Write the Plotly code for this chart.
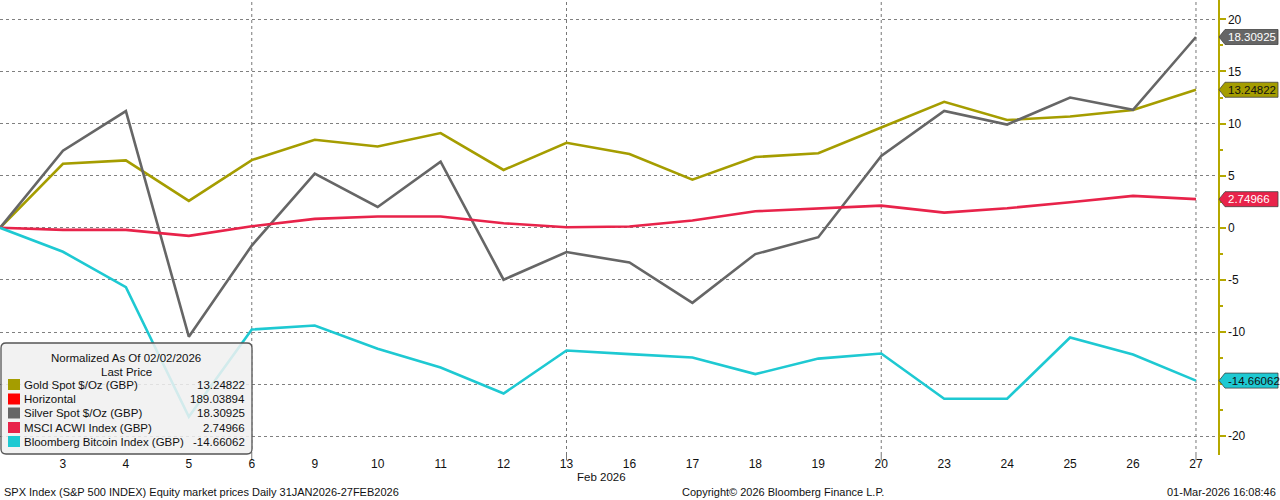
import plotly.graph_objects as go

# ---------------- data ----------------
days = ["2", "3", "4", "5", "6", "9", "10", "11", "12", "13",
        "16", "17", "18", "19", "20", "23", "24", "25", "26", "27"]
grid_days = ["6", "13", "20", "27"]

gold = [0, 6.15, 6.47, 2.58, 6.5, 8.45, 7.8, 9.09, 5.55, 8.16,
        7.08, 4.62, 6.79, 7.15, 9.63, 12.09, 10.34, 10.68, 11.3, 13.24822]
silver = [0, 7.4, 11.2, -10.45, -1.7, 5.2, 2.0, 6.34, -4.98, -2.33,
          -3.32, -7.2, -2.52, -0.9, 6.89, 11.22, 9.91, 12.5, 11.32, 18.30925]
msci = [0, -0.2, -0.2, -0.77, 0.15, 0.86, 1.08, 1.08, 0.44, 0.06,
        0.12, 0.7, 1.59, 1.88, 2.13, 1.46, 1.88, 2.45, 3.06, 2.74966]
btc = [0, -2.3, -5.7, -18.13, -9.76, -9.38, -11.6, -13.4, -15.9, -11.77,
       -12.12, -12.44, -14.04, -12.55, -12.06, -16.4, -16.4, -10.53, -12.15, -14.66062]
horizontal_value = 189.03894

y_ticks = [20, 15, 10, 5, 0, -5, -10, -15, -20]
y_tick_text = ["20", "15", "10", "5", "0", "-5", "-10", "", "-20"]  # -15 is hidden behind the badge

names = ["Gold Spot $/Oz (GBP)", "Horizontal", "Silver Spot $/Oz (GBP)",
         "MSCI ACWI Index (GBP)", "Bloomberg Bitcoin Index (GBP)"]

# ---------------- styles ----------------
C_GOLD = "#a59d00"
C_HORIZ = "#ff0000"
C_SILVER = "#666666"
C_MSCI = "#e8234a"
C_BTC = "#1ec9d2"
C_AXIS = "#b5a800"
FONT = "Liberation Sans"
TXT = "#111111"

W, H = 1280, 500
ML, MR, MT, MB = 0, 62, 0, 45
PW = W - ML - MR
PH = H - MT - MB


def px(xp):
    return (xp - ML) / PW


def py(yp):
    return (H - MB - yp) / PH


x = list(range(len(days)))

fig = go.Figure()
series = [(gold, C_GOLD, names[0]), (silver, C_SILVER, names[2]),
          (msci, C_MSCI, names[3]), (btc, C_BTC, names[4])]
for vals, col, nm in series:
    fig.add_trace(go.Scatter(x=x, y=vals, mode="lines", name=nm,
                             line=dict(color=col, width=2.6), hoverinfo="skip"))

shapes = []
annotations = []

# vertical dotted gridlines at weekly positions
for d in grid_days:
    i = days.index(d)
    shapes.append(dict(type="line", xref="x", yref="paper", x0=i, x1=i, y0=0, y1=1,
                       line=dict(color="#777777", width=1, dash="dot"), layer="below"))
    shapes.append(dict(type="line", xref="x", yref="paper", x0=i, x1=i, y0=0, y1=-0.012,
                       line=dict(color="#777777", width=1), layer="below"))

# right-axis value badges
upp = (21.86 + 21.8) / PH  # data units per pixel
badges = [(silver[-1], C_SILVER, "white"), (gold[-1], C_GOLD, "#111111"),
          (msci[-1], C_MSCI, "white"), (btc[-1], C_BTC, "#111111")]
for v, col, tc in badges:
    hh = 7.5 * upp
    x_tip, x_l, x_r = px(1219), px(1225), px(1278)
    path = (f"M {x_tip},{v} L {x_l},{v + hh} L {x_r},{v + hh} "
            f"L {x_r},{v - hh} L {x_l},{v - hh} Z")
    shapes.append(dict(type="path", xref="paper", yref="y", path=path,
                       fillcolor=col, line=dict(color="#444444", width=0.8), layer="above"))
    annotations.append(dict(xref="paper", yref="y", x=px(1226), y=v, text=f"{v:.5f}",
                            showarrow=False, xanchor="left", yanchor="middle",
                            font=dict(family=FONT, size=11.5, color=tc)))

# legend box
lx0, lx1, ly0, ly1, r = 1, 252, 343, 454, 5
path = (f"M {px(lx0 + r)},{py(ly0)} L {px(lx1 - r)},{py(ly0)} "
        f"Q {px(lx1)},{py(ly0)} {px(lx1)},{py(ly0 + r)} "
        f"L {px(lx1)},{py(ly1 - r)} Q {px(lx1)},{py(ly1)} {px(lx1 - r)},{py(ly1)} "
        f"L {px(lx0 + r)},{py(ly1)} Q {px(lx0)},{py(ly1)} {px(lx0)},{py(ly1 - r)} "
        f"L {px(lx0)},{py(ly0 + r)} Q {px(lx0)},{py(ly0)} {px(lx0 + r)},{py(ly0)} Z")
shapes.append(dict(type="path", xref="paper", yref="paper", path=path,
                   fillcolor="rgba(240,240,240,0.86)", line=dict(color="#555555", width=1.3),
                   layer="above"))

annotations.append(dict(xref="paper", yref="paper", x=px(126), y=py(357.5),
                        text="Normalized As Of 02/02/2026", showarrow=False,
                        xanchor="center", yanchor="middle",
                        font=dict(family=FONT, size=11.5, color=TXT)))
annotations.append(dict(xref="paper", yref="paper", x=px(126), y=py(371.5),
                        text="Last Price", showarrow=False,
                        xanchor="center", yanchor="middle",
                        font=dict(family=FONT, size=11.5, color=TXT)))

leg_vals = [gold[-1], horizontal_value, silver[-1], msci[-1], btc[-1]]
leg_cols = [C_GOLD, C_HORIZ, C_SILVER, C_MSCI, C_BTC]
row_y = [384.5, 399, 413, 427.5, 441.5]
for nm, val, col, ry in zip(names, leg_vals, leg_cols, row_y):
    shapes.append(dict(type="rect", xref="paper", yref="paper",
                       x0=px(8), x1=px(20), y0=py(ry + 5.5), y1=py(ry - 5.5),
                       fillcolor=col, line=dict(width=0), layer="above"))
    annotations.append(dict(xref="paper", yref="paper", x=px(22), y=py(ry), text=nm,
                            showarrow=False, xanchor="left", yanchor="middle",
                            font=dict(family=FONT, size=11.5, color=TXT)))
    annotations.append(dict(xref="paper", yref="paper", x=px(247), y=py(ry),
                            text=f"{val:.5f}", showarrow=False, xanchor="right",
                            yanchor="middle", font=dict(family=FONT, size=11.5, color=TXT)))

# axis sub-label and footer
annotations.append(dict(xref="paper", yref="paper", x=px(601), y=py(477), text="Feb 2026",
                        showarrow=False, xanchor="center", yanchor="middle",
                        font=dict(family=FONT, size=11.5, color=TXT)))
annotations.append(dict(xref="paper", yref="paper", x=px(2), y=py(492),
                        text="SPX Index (S&P 500 INDEX) Equity market prices Daily 31JAN2026-27FEB2026",
                        showarrow=False, xanchor="left", yanchor="middle",
                        font=dict(family=FONT, size=11, color=TXT)))
annotations.append(dict(xref="paper", yref="paper", x=px(680), y=py(492),
                        text="Copyright© 2026 Bloomberg Finance L.P.",
                        showarrow=False, xanchor="left", yanchor="middle",
                        font=dict(family=FONT, size=11, color=TXT)))
annotations.append(dict(xref="paper", yref="paper", x=px(1278), y=py(492),
                        text="01-Mar-2026 16:08:46",
                        showarrow=False, xanchor="right", yanchor="middle",
                        font=dict(family=FONT, size=11, color=TXT)))

fig.update_layout(
    width=W, height=H,
    margin=dict(l=ML, r=MR, t=MT, b=MB),
    paper_bgcolor="white", plot_bgcolor="white",
    showlegend=False, hovermode=False,
    shapes=shapes, annotations=annotations,
    xaxis=dict(range=[0, len(days) - 1 + 0.35], tickmode="array",
               tickvals=x[1:], ticktext=days[1:], showgrid=False, zeroline=False,
               showline=False, ticks="", tickfont=dict(family=FONT, size=12, color=TXT)),
    yaxis=dict(range=[-21.8, 21.86], side="right", tickmode="array", tickvals=y_ticks,
               ticktext=y_tick_text, showgrid=True, gridcolor="#808080",
               griddash="dot", gridwidth=1, zeroline=False, showline=True,
               linecolor=C_AXIS, linewidth=1.5, ticks="outside", ticklen=6, tickwidth=2,
               tickcolor=C_AXIS, minor=dict(dtick=2.5, ticks="outside", ticklen=3,
                                            tickcolor=C_AXIS, showgrid=False),
               tickfont=dict(family=FONT, size=12, color=TXT)),
)

fig.write_html("out.html", config={"displayModeBar": False, "staticPlot": True},
               post_script="document.body.style.margin='0';document.body.style.overflow='hidden';")
